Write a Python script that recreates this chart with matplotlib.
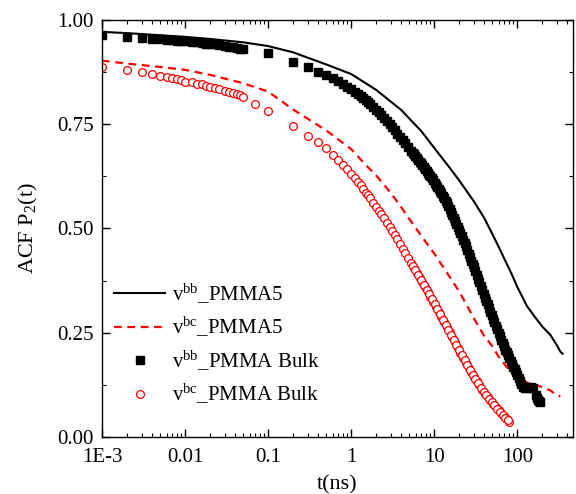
import matplotlib
matplotlib.use("Agg")
import matplotlib.pyplot as plt
from matplotlib.ticker import FixedLocator, LogLocator, NullFormatter, MultipleLocator

plt.rcParams['font.family'] = ['Liberation Serif', 'DejaVu Serif']
plt.rcParams['mathtext.fontset'] = 'custom'
plt.rcParams['mathtext.rm'] = 'Liberation Serif'
plt.rcParams['mathtext.it'] = 'Liberation Serif:italic'

# v^bb PMMA5 (solid line)
t_bb5 = [0.001, 0.002, 0.005, 0.01, 0.02, 0.05, 0.1, 0.2, 0.5, 1, 2, 4, 7, 10, 15, 20,
         30, 40, 50, 60, 70, 85, 100, 130, 160, 200, 250, 300, 330, 350]
p_bb5 = [0.971, 0.968, 0.963, 0.959, 0.954, 0.946, 0.937, 0.922, 0.893, 0.870, 0.832,
         0.784, 0.733, 0.693, 0.648, 0.615, 0.565, 0.525, 0.487, 0.455, 0.427, 0.392,
         0.360, 0.315, 0.290, 0.265, 0.245, 0.220, 0.205, 0.200]

# v^bc PMMA5 (dashed line)
t_bc5 = [0.001, 0.002, 0.005, 0.01, 0.02, 0.05, 0.1, 0.2, 0.5, 1, 1.5, 2, 3, 4, 5, 7, 10,
         15, 20, 30, 40, 50, 60, 70, 90, 110, 130, 160, 200, 250, 300, 330]
p_bc5 = [0.902, 0.895, 0.887, 0.880, 0.868, 0.848, 0.828, 0.785, 0.735, 0.690, 0.652,
         0.627, 0.585, 0.551, 0.523, 0.482, 0.440, 0.387, 0.349, 0.285, 0.242, 0.218,
         0.192, 0.175, 0.148, 0.137, 0.131, 0.126, 0.120, 0.112, 0.100, 0.098]

# sampling times of the bulk runs
t_early = [0.001, 0.002, 0.003, 0.004, 0.005, 0.006, 0.007, 0.008, 0.009, 0.010, 0.012,
           0.014, 0.016, 0.018, 0.020, 0.023, 0.026, 0.030, 0.034, 0.038, 0.042, 0.046,
           0.050]
t_mid = [0.1, 0.2, 0.3, 0.4, 0.5, 0.6, 0.7, 0.8, 0.9]
t_late = [1.0, 1.1, 1.2, 1.3, 1.4, 1.5, 1.6, 1.7, 1.85, 2.0, 2.15, 2.3, 2.5, 2.7, 2.9,
          3.1, 3.35, 3.6, 3.9, 4.2, 4.5, 4.9, 5.3, 5.7, 6.2, 6.7, 7.2, 7.8, 8.4, 9.0,
          9.7, 10.5, 11.3, 12.2, 13.2, 14.2, 15.3, 16.5, 17.8, 19.2, 20.7, 22.3, 24, 26,
          28, 30, 32.5, 35, 38, 41, 44, 47.5, 51, 55, 59.5, 64, 69, 74.5, 80]
t_fill = [5.5, 5.95, 6.45, 6.95, 7.5, 8.1, 8.7, 9.35, 10.1, 10.9, 11.75, 12.7, 13.7,
          14.75, 15.9, 17.15, 18.5, 19.95, 21.5, 23.15, 25, 27, 29, 31.25, 33.75, 36.5,
          39.5, 42.5, 45.75, 49.25, 53, 57.25, 61.75, 66.5, 71.75, 77.25]
t_tail = [83, 86, 89.5, 93, 96.5, 100, 104, 108, 112, 116, 125, 135, 145, 156, 168, 174,
          180, 185, 190]

# v^bb PMMA bulk (squares)
t_bbB = t_early + t_mid + t_late + t_fill + t_tail
p_bbB = [0.964, 0.959, 0.957, 0.955, 0.953, 0.952, 0.951, 0.950, 0.949, 0.948, 0.947,
         0.946, 0.945, 0.943, 0.942, 0.941, 0.939, 0.937, 0.935, 0.934, 0.932, 0.931,
         0.930,
         0.921, 0.900, 0.887, 0.876, 0.868, 0.860, 0.854, 0.847, 0.840,
         0.833, 0.828, 0.823, 0.818, 0.813, 0.808, 0.803, 0.798, 0.792, 0.785, 0.779,
         0.773, 0.765, 0.757, 0.750, 0.743, 0.735, 0.727, 0.719, 0.711, 0.704, 0.695,
         0.686, 0.678, 0.669, 0.660, 0.652, 0.643, 0.634, 0.625, 0.615, 0.605, 0.595,
         0.584, 0.572, 0.560, 0.547, 0.533, 0.519, 0.504, 0.489, 0.473, 0.457, 0.440,
         0.423, 0.407, 0.388, 0.371, 0.352, 0.334, 0.318, 0.300, 0.284, 0.266, 0.250,
         0.234, 0.218, 0.203, 0.189,
         0.682, 0.673, 0.664, 0.656, 0.647, 0.638, 0.629, 0.620, 0.610, 0.600, 0.589,
         0.578, 0.566, 0.553, 0.540, 0.526, 0.511, 0.496, 0.481, 0.465, 0.448, 0.431,
         0.415, 0.397, 0.379, 0.361, 0.343, 0.326, 0.309, 0.292, 0.275, 0.258, 0.242,
         0.226, 0.210, 0.196,
         0.182, 0.176, 0.169, 0.163, 0.156, 0.150, 0.142, 0.135, 0.127, 0.120, 0.118,
         0.119, 0.120, 0.118, 0.100, 0.094, 0.088, 0.086, 0.085]

# v^bc PMMA bulk (open circles)
t_bcB = t_early + [0.07] + t_mid + t_late + t_fill
p_bcB = [0.888, 0.880, 0.876, 0.871, 0.866, 0.864, 0.861, 0.858, 0.855, 0.852, 0.850,
         0.847, 0.845, 0.842, 0.840, 0.837, 0.834, 0.830, 0.827, 0.825, 0.822, 0.819,
         0.816,
         0.799,
         0.782, 0.746, 0.722, 0.706, 0.692, 0.676, 0.664, 0.652, 0.642,
         0.630, 0.620, 0.611, 0.603, 0.594, 0.586, 0.579, 0.572, 0.562, 0.552, 0.543,
         0.535, 0.524, 0.514, 0.504, 0.495, 0.484, 0.474, 0.462, 0.451, 0.441, 0.429,
         0.417, 0.406, 0.394, 0.382, 0.371, 0.359, 0.348, 0.337, 0.325, 0.312, 0.300,
         0.288, 0.275, 0.263, 0.251, 0.239, 0.227, 0.214, 0.202, 0.190, 0.178, 0.166,
         0.155, 0.145, 0.134, 0.124, 0.114, 0.104, 0.096, 0.088, 0.080, 0.072, 0.064,
         0.057, 0.050, 0.043, 0.037,
         0.411, 0.400, 0.388, 0.376, 0.365, 0.353, 0.342, 0.331, 0.318, 0.306, 0.294,
         0.281, 0.269, 0.257, 0.245, 0.233, 0.220, 0.208, 0.196, 0.184, 0.172, 0.160,
         0.150, 0.139, 0.129, 0.119, 0.109, 0.100, 0.092, 0.084, 0.076, 0.068, 0.060,
         0.053, 0.046, 0.040]

xticks = [1e-3, 1e-2, 1e-1, 1, 10, 100]
xticklabels = ['1E-3', '0.01', '0.1', '1', '10', '100']

fig = plt.figure(figsize=(5.76, 4.94), dpi=100)
ax = fig.add_axes([0.177, 0.115, 0.818, 0.845])

ax.plot(t_bb5, p_bb5, '-', color='black', lw=1.5, label=r'v$^{\rm bb}$_PMMA5')
ax.plot(t_bc5, p_bc5, '--', color='red', lw=1.6, dashes=(3.5, 2.5),
        label=r'v$^{\rm bc}$_PMMA5')
ax.plot(t_bbB, p_bbB, 's', color='black', ms=5.6, ls='none',
        label=r'v$^{\rm bb}$_PMMA Bulk')
ax.plot(t_bcB, p_bcB, 'o', mfc='white', mec='red', mew=0.9, ms=5.6, ls='none',
        label=r'v$^{\rm bc}$_PMMA Bulk')

ax.set_xscale('log')
ax.set_xlim(1e-3, 470)
ax.set_ylim(0, 1.0)
ax.xaxis.set_major_locator(FixedLocator(xticks))
ax.set_xticklabels(xticklabels)
ax.xaxis.set_minor_locator(LogLocator(base=10, subs=range(2, 10), numticks=20))
ax.xaxis.set_minor_formatter(NullFormatter())
ax.yaxis.set_major_locator(MultipleLocator(0.25))
ax.yaxis.set_minor_locator(MultipleLocator(0.125))
ax.yaxis.set_major_formatter(plt.FormatStrFormatter('%.2f'))

ax.tick_params(which='both', direction='in', top=True, right=True, labelsize=15)
ax.tick_params(which='major', length=6, width=1)
ax.tick_params(which='minor', length=3, width=0.8)
ax.tick_params(axis='x', which='major', pad=8)
ax.tick_params(axis='y', which='major', pad=6)
for s in ax.spines.values():
    s.set_linewidth(1.0)

ax.set_xlabel('t(ns)', fontsize=16, labelpad=6)
ax.set_ylabel(r'ACF P$_2$(t)', fontsize=16, labelpad=12)

ax.legend(loc='lower left', bbox_to_anchor=(0.0, 0.045), frameon=False, fontsize=15,
          handlelength=2.45, handletextpad=0.3, labelspacing=0.45, borderaxespad=0.2)

fig.savefig('out.png', dpi=100)
